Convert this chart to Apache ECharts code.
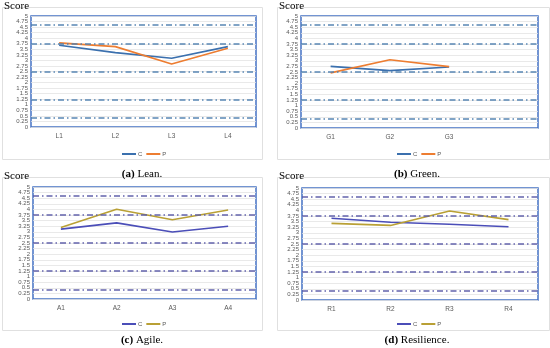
<!DOCTYPE html>
<html><head><meta charset="utf-8">
<script src="https://cdn.jsdelivr.net/npm/echarts@6/dist/echarts.min.js"></script>
<style>html,body{margin:0;padding:0;background:#fff}#c{width:550px;height:348px}</style>
</head><body><div id="c"></div>
<script>
const leanCats = ['L1','L2','L3','L4'];
const leanC = [3.68, 3.35, 3.10, 3.62];
const leanP = [3.79, 3.62, 2.84, 3.55];
const greenCats = ['G1','G2','G3',''];
const greenC = [2.75, 2.56, 2.72];
const greenP = [2.46, 3.05, 2.74];
const agileCats = ['A1','A2','A3','A4'];
const agileC = [3.12, 3.40, 2.99, 3.25];
const agileP = [3.19, 4.01, 3.54, 3.97];
const resCats = ['R1','R2','R3','R4'];
const resC = [3.65, 3.47, 3.38, 3.27];
const resP = [3.42, 3.33, 3.97, 3.59];
const refLines = [0.4, 1.25, 2.5, 3.75, 4.6];
const captions = [['a','Lean.'],['b','Green.'],['c','Agile.'],['d','Resilience.']];

const chart = echarts.init(document.getElementById('c'), null, {renderer:'canvas'});
const grids = [
  {left:31, right:294, top:16, bottom:221},
  {left:301, right:12, top:16, bottom:220},
  {left:33, right:294, top:187, bottom:49},
  {left:302, right:12, top:188, bottom:48}
];
const catsAll = [leanCats, greenCats, agileCats, resCats];
const dataAll = [[leanC, leanP],[greenC, greenP],[agileC, agileP],[resC, resP]];
const colsAll = [['#3B70AE','#ED7D31'],['#3B70AE','#ED7D31'],['#4B4EB8','#B9A035'],['#4B4EB8','#B9A035']];
const refCol = ['#4F7FAF','#4F7FAF','#5A5AA8','#5A5AA8'];

const xAxis = [], yAxis = [], series = [], legend = [], title = [];
const legendPos = [[137,150],[412,150],[137,320],[412,320]];
const capPos = [[137,171],[412,171],[137,337],[412,337]];
const lbl = {fontSize:6, color:'#595959', margin:3, fontFamily:'Liberation Sans'};
grids.forEach((g,i)=>{
  g.show = true; g.borderColor = '#4472C4'; g.borderWidth = 1.5; g.backgroundColor='transparent';
  xAxis.push({type:'category', gridIndex:i, data:catsAll[i], boundaryGap:true,
    axisLine:{show:false}, axisTick:{show:false},
    axisLabel:{fontSize:6.5, color:'#595959', margin:6, fontFamily:'Liberation Sans'}});
  yAxis.push({type:'value', gridIndex:i, min:0, max:5, interval:0.25,
    axisLine:{show:false}, axisTick:{show:false},
    axisLabel:Object.assign({}, lbl, {formatter:v=>(v===0||v===5)?'':String(Math.round(v*100)/100)}),
    splitLine:{lineStyle:{color:'#E3E3E3', width:0.8}}});
  yAxis.push({type:'value', gridIndex:i, min:0, max:5, interval:5, position:'left',
    axisLine:{show:false}, axisTick:{show:false}, splitLine:{show:false},
    axisLabel:Object.assign({}, lbl, {showMinLabel:true, showMaxLabel:true})});
  ['C','P'].forEach((n,k)=>{
    const s = {name:n, type:'line', xAxisIndex:i, yAxisIndex:2*i, data:dataAll[i][k],
      symbol:'none', lineStyle:{width:1.6, color:colsAll[i][k]}, itemStyle:{color:colsAll[i][k]},
      animation:false};
    if(k===0){
      s.markLine = {silent:true, symbol:'none', label:{show:false},
        lineStyle:{color:refCol[i], width:1.5, type:[6,3,1.5,3], opacity:0.95},
        data:refLines.map(v=>({yAxis:v}))};
    }
    series.push(s);
  });
  legend.push({show:true, left:legendPos[i][0]-20, top:legendPos[i][1]-4, orient:'horizontal',
    itemWidth:14, itemHeight:2, itemGap:4, icon:'rect',
    data:series.slice(-2).map(s=>({name:s.name, itemStyle:{color:s.lineStyle.color}})),
    textStyle:{fontSize:6, color:'#595959', padding:[0,0,0,-3]},
    selectedMode:false});
  title.push({text:'{b|('+captions[i][0]+')}{n| '+captions[i][1]+'}', left:capPos[i][0], top:capPos[i][1]-7,
    textAlign:'center',
    textStyle:{rich:{b:{fontFamily:'Liberation Serif', fontWeight:'bold', fontSize:11, color:'#000'},
      n:{fontFamily:'Liberation Serif', fontWeight:'normal', fontSize:11, color:'#000'}}}});
});
const scoreGfx = [[4,1],[279,1],[4,171],[279,171]].map(p=>({type:'text', left:p[0], top:p[1],
  style:{text:'Score', font:'11px "Liberation Serif"', fill:'#000'}}));
const boxes = [[2,7,260,152],[277,7,272,152],[2,177,260,153],[277,177,272,153]].map(b=>({type:'rect',
  shape:{x:b[0]+0.5,y:b[1]+0.5,width:b[2],height:b[3]}, style:{fill:'none', stroke:'#E0E0E0', lineWidth:1}, z:-10}));
chart.setOption({animation:false, grid:grids, xAxis, yAxis, series, legend, title,
  graphic:[...boxes, ...scoreGfx]});
</script></body></html>
